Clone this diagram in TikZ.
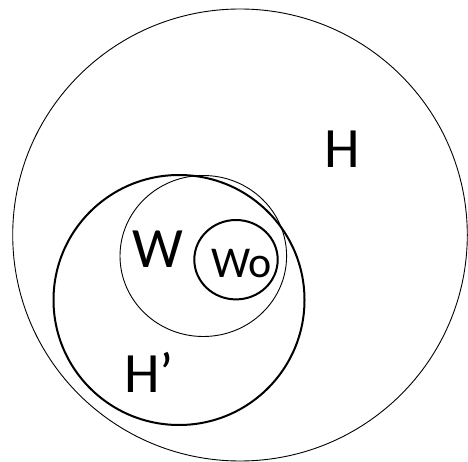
\documentclass[tikz,border=0pt]{standalone}
\usepackage{fontspec}
\setmainfont{Carlito}
\begin{document}
\begin{tikzpicture}[x=1pt,y=-1pt,
  thinline/.style={draw=black,line width=0.9pt},
  thickline/.style={draw=black,line width=2pt},
  biglabel/.style={inner sep=0pt,font=\fontsize{57}{60}\selectfont},
  smalllabel/.style={inner sep=0pt,font=\fontsize{44}{48}\selectfont}]
\useasboundingbox (0,0) rectangle (468,462);
\fill[white] (0,0) rectangle (468,462);
% H
\draw[thinline] (240,235) ellipse [x radius=227.3,y radius=226];
% H'
\draw[thickline] (179,300) ellipse [x radius=125.5,y radius=125];
% W
\draw[thinline] (203.3,256) ellipse [x radius=83.3,y radius=80.5];
% W0
\draw[thickline] (236,259.7) ellipse [x radius=41.7,y radius=39.7];
\node[biglabel,anchor=base] (h) at (342,168) {H};
\node[biglabel,anchor=base] (w) at (157.5,267) {W};
\node[biglabel,anchor=base west] (hp) at (124,392) {H’};
\node[smalllabel,anchor=base west] (w0) at (211,277) {Wo};
\end{tikzpicture}
\end{document}
